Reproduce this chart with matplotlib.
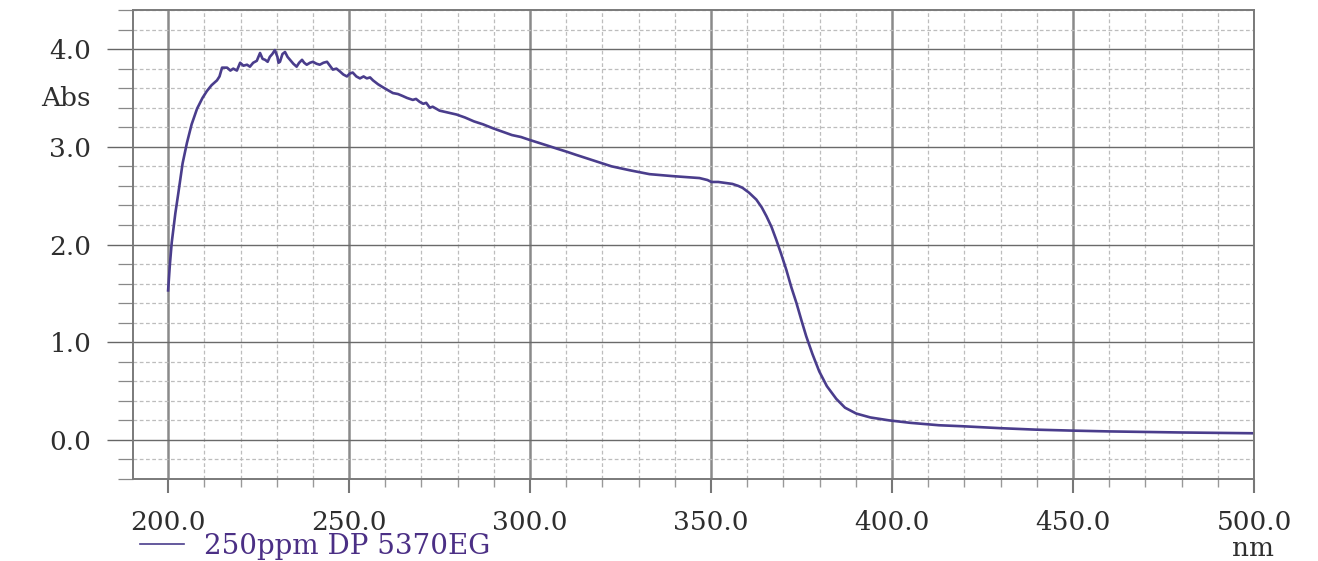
#!/usr/bin/env python3

import matplotlib
matplotlib.use("Agg")
import matplotlib.pyplot as plt
from matplotlib.ticker import MultipleLocator, FormatStrFormatter

# wavelength (nm) and absorbance
wavelength = [
    200, 200.5, 201, 202, 202.8, 204, 205.2, 206.5, 208, 209.5, 210.7, 212,
    213.5, 214.2, 214.9, 216.3, 217.2, 218, 219, 219.9, 220.8, 221.8, 222.6,
    223.5, 224.5, 225.4, 226.1, 226.8, 227.5, 228.1, 228.8, 229.5, 230.2,
    230.5, 230.9, 231.6, 232.3, 233, 233.7, 234.6, 235.5, 236.2, 237, 237.6,
    238.3, 239.2, 240, 241, 241.9, 242.9, 243.9, 244.7, 245.5, 246.5, 247.5,
    248.4, 249.4, 250.2, 251, 252, 253, 254, 254.9, 255.8, 256.6, 258, 259.3,
    260.7, 262.1, 263.5, 264.8, 266, 267.6, 268.5, 269.5, 270.5, 271.3,
    272.3, 273.1, 275, 277.3, 279.7, 282, 284.5, 287, 289.7, 292, 295, 297.5,
    299.9, 302.5, 305, 307.5, 310.1, 312.5, 315, 317.5, 320, 322.5, 325,
    327.5, 330.2, 333, 336, 339.3, 343, 346.8, 349, 350.1, 352, 354, 355.9,
    357.5, 358.7, 360.5, 362.5, 364, 365.3, 366.7, 368, 369.4, 370.8, 372.2,
    373.6, 375, 376.3, 378, 379.9, 382, 384.6, 387, 390.1, 394, 399.2, 405,
    413, 419.4, 430, 439.8, 450, 460, 470, 480, 490, 500,
]
absorbance = [
    1.53, 1.80, 2.02, 2.32, 2.52, 2.83, 3.04, 3.23, 3.39, 3.50, 3.57, 3.63,
    3.68, 3.72, 3.81, 3.81, 3.78, 3.80, 3.78, 3.86, 3.83, 3.84, 3.82,
    3.86, 3.88, 3.96, 3.90, 3.89, 3.87, 3.92, 3.95, 3.99, 3.92,
    3.86, 3.87, 3.95, 3.97, 3.92, 3.89, 3.85, 3.82, 3.86, 3.89, 3.86,
    3.84, 3.86, 3.87, 3.85, 3.84, 3.86, 3.87, 3.83, 3.79, 3.80, 3.77,
    3.74, 3.72, 3.75, 3.76, 3.72, 3.70, 3.72, 3.70, 3.71, 3.68, 3.64, 3.61,
    3.58, 3.55, 3.54, 3.52, 3.50, 3.48, 3.49, 3.46, 3.44, 3.45,
    3.40, 3.41, 3.37, 3.35, 3.33, 3.30, 3.26, 3.23, 3.19, 3.16, 3.12, 3.10,
    3.07, 3.04, 3.01, 2.98, 2.95, 2.92, 2.89, 2.86, 2.83, 2.80, 2.78,
    2.76, 2.74, 2.72, 2.71, 2.70, 2.69, 2.68, 2.66, 2.64, 2.64, 2.63, 2.62,
    2.60, 2.58, 2.53, 2.46, 2.38, 2.29, 2.18, 2.05, 1.90, 1.74, 1.56,
    1.40, 1.22, 1.06, 0.88, 0.70, 0.55, 0.42, 0.33, 0.27, 0.23, 0.20, 0.175,
    0.15, 0.14, 0.12, 0.105, 0.095, 0.087, 0.081, 0.076, 0.072, 0.068,
]
series_label = "250ppm DP 5370EG"

LINE = "#4a3d8c"
TEXT = "#2e2e2e"
LEGEND_TEXT = "#4b2f85"
FONT = "DejaVu Serif"


def main():
    fig = plt.figure(figsize=(13.18, 5.61), dpi=100)
    ax = fig.add_axes([133 / 1318, 1 - 479 / 561, (1254 - 133) / 1318, (479 - 10) / 561])

    ax.set_xlim(190.3, 500)
    ax.set_ylim(-0.4, 4.4)

    ax.xaxis.set_major_locator(MultipleLocator(50))
    ax.xaxis.set_minor_locator(MultipleLocator(10))
    ax.yaxis.set_major_locator(MultipleLocator(1.0))
    ax.yaxis.set_minor_locator(MultipleLocator(0.2))
    ax.xaxis.set_major_formatter(FormatStrFormatter("%.1f"))
    ax.yaxis.set_major_formatter(FormatStrFormatter("%.1f"))

    ax.grid(True, which="major", axis="x", color="#8a8a8a", linewidth=1.8)
    ax.grid(True, which="major", axis="y", color="#6a6a6a", linewidth=1.0)
    ax.grid(True, which="minor", color="#bdbdbd", linewidth=0.9,
            linestyle=(0, (3, 2)))
    ax.set_axisbelow(True)

    ax.tick_params(axis="x", which="major", length=10, width=1.5,
                   color="#777777", pad=12, labelsize=19, labelcolor=TEXT)
    ax.tick_params(axis="x", which="minor", length=6, width=1.0,
                   color="#999999")
    ax.tick_params(axis="y", which="major", length=19, width=1.0,
                   color="#666666", pad=11, labelsize=19, labelcolor=TEXT)
    ax.tick_params(axis="y", which="minor", length=11, width=0.9,
                   color="#888888")
    for lab in ax.get_xticklabels() + ax.get_yticklabels():
        lab.set_family(FONT)

    for side in ax.spines.values():
        side.set_color("#7a7a7a")
        side.set_linewidth(1.4)

    ax.plot(wavelength, absorbance, color=LINE, linewidth=1.9,
            label=series_label)

    fig.text(91 / 1318, 1 - 98 / 561, "Abs", ha="right", va="center",
             family=FONT, fontsize=19, color=TEXT)
    fig.text(1253 / 1318, 1 - 549 / 561, "nm", ha="center", va="center",
             family=FONT, fontsize=19, color=TEXT)

    leg = fig.legend(loc="center left", bbox_to_anchor=(140 / 1318, 1 - 546 / 561),
                     frameon=False, handlelength=1.6, handletextpad=0.7,
                     borderpad=0, borderaxespad=0,
                     prop={"family": FONT, "size": 20})
    for t in leg.get_texts():
        t.set_color(LEGEND_TEXT)
    for h in leg.get_lines():
        h.set_linewidth(1.2)

    fig.savefig("out.png", dpi=100, facecolor="white")


if __name__ == "__main__":
    main()
